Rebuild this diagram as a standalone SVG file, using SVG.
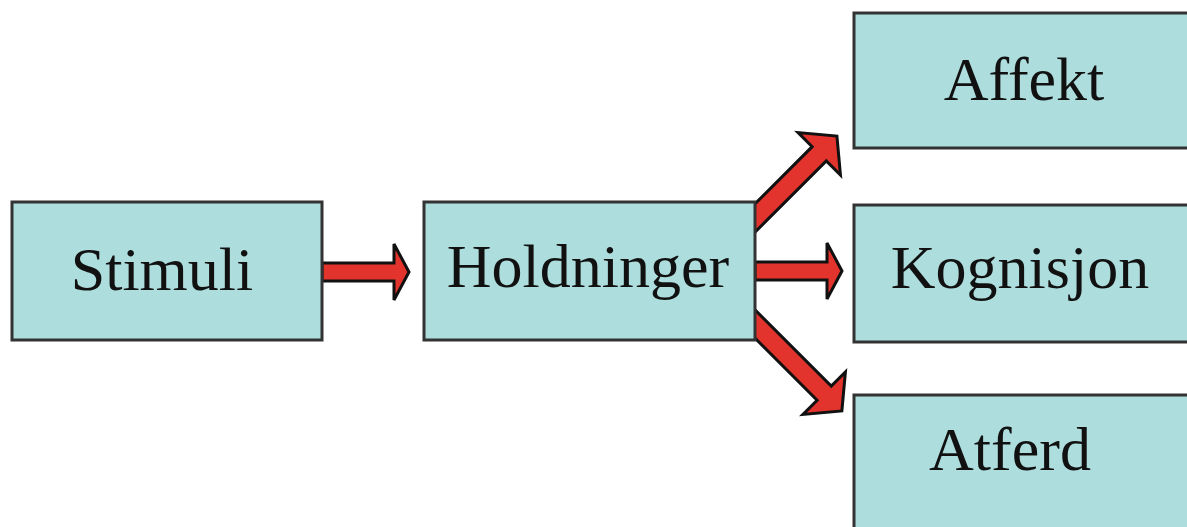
<svg xmlns="http://www.w3.org/2000/svg" width="1187" height="527" viewBox="0 0 1187 527">
<style>
.box{fill:#ADDDDD;stroke:#333;stroke-width:3}
.lbl{font-family:"Liberation Serif","Times New Roman",serif;font-size:62px;fill:#111;text-anchor:middle}
.arr{fill:#E2342C;stroke:#111;stroke-width:3;stroke-linejoin:miter}
</style>
<rect width="1187" height="527" fill="#fff"/>
<g id="connectors">
<path class="arr" transform="translate(322,272)" d="M0,-9 L72,-9 L72,-28 L87,0 L72,28 L72,9 L0,9 Z"/>
<path class="arr" transform="translate(755,271)" d="M0,-9 L72,-9 L72,-28 L87,0 L72,28 L72,9 L0,9 Z"/>
<path class="arr" transform="translate(745,228) rotate(-45)" d="M0,-10 L105,-10 L105,-30 L130,0 L105,30 L105,10 L0,10 Z"/>
<path class="arr" transform="translate(745,314) rotate(45)" d="M0,-10 L112,-10 L112,-30 L137,0 L112,30 L112,10 L0,10 Z"/>
</g>
<g id="stimuli">
<rect class="box" x="12" y="202" width="310" height="138"/>
<text class="lbl" x="162" y="290">Stimuli</text>
</g>
<g id="holdninger">
<rect class="box" x="424" y="202" width="331" height="138"/>
<text class="lbl" x="588" y="287">Holdninger</text>
</g>
<g id="affekt">
<rect class="box" x="854" y="13" width="345" height="135"/>
<text class="lbl" x="1024" y="100">Affekt</text>
</g>
<g id="kognisjon">
<rect class="box" x="854" y="205" width="345" height="137"/>
<text class="lbl" x="1020" y="288">Kognisjon</text>
</g>
<g id="atferd">
<rect class="box" x="854" y="395" width="345" height="145"/>
<text class="lbl" x="1010" y="470">Atferd</text>
</g>
</svg>
